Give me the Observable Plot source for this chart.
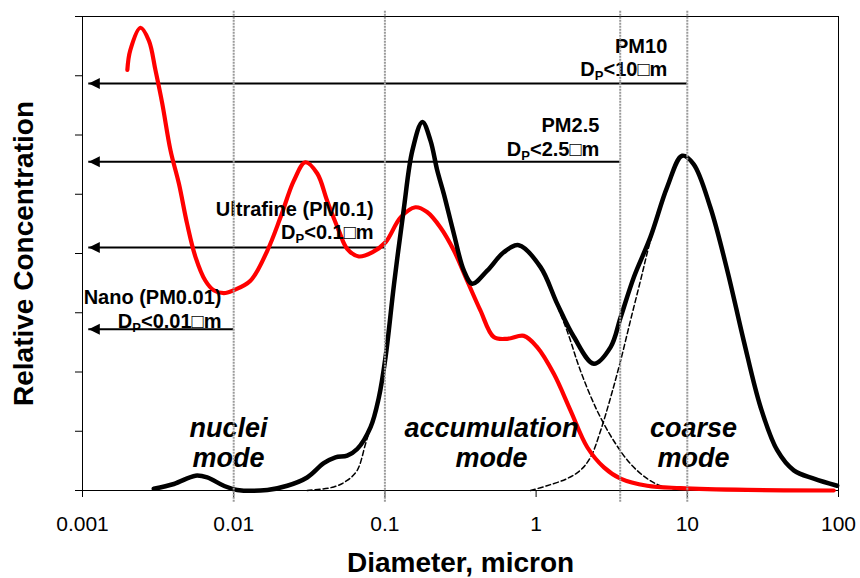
<!DOCTYPE html>
<html>
<head>
<meta charset="utf-8">
<script src="https://cdn.jsdelivr.net/npm/d3@7"></script>
<script src="https://cdn.jsdelivr.net/npm/@observablehq/plot@0.6"></script>
<style>
  html, body { margin: 0; padding: 0; background: #ffffff; }
  #chart { width: 860px; height: 578px; }
</style>
</head>
<body>
<div id="chart"></div>
<script>
// ---- Data ----
const xTicks = [0.001, 0.01, 0.1, 1, 10, 100];
const xTickLabels = ["0.001", "0.01", "0.1", "1", "10", "100"];
const yTicks = [0, 1, 2, 3, 4, 5, 6, 7, 8];

// Red curve (number distribution)
const redDiameter = [0.00198,0.00207,0.00242,0.00275,0.00304,0.00337,0.00382,0.00434,0.00492,0.00559,0.0065,0.00738,0.0086,0.0100,0.0129,0.0167,0.0204,0.025,0.0298,0.0357,0.0415,0.0495,0.0563,0.0672,0.0824,0.101,0.127,0.159,0.19,0.233,0.286,0.35,0.428,0.525,0.644,0.83,1.016,1.31,1.69,2.18,2.81,3.62,5.43,9.0,24.9,93];
const redConc = [7.10,7.43,7.81,7.59,7.09,6.53,5.74,5.18,4.50,3.94,3.54,3.38,3.33,3.38,3.54,4.05,4.61,5.23,5.54,5.35,4.89,4.39,4.08,3.95,4.02,4.19,4.61,4.78,4.70,4.44,4.05,3.54,3.04,2.59,2.56,2.61,2.42,1.97,1.35,0.73,0.39,0.20,0.08,0.04,0.01,0.0];

// Black curve (total)
const blackDiameter = [0.00296,0.00402,0.00559,0.00668,0.0086,0.01054,0.0167,0.0226,0.0306,0.0394,0.0471,0.0563,0.0656,0.0804,0.0912,0.101,0.115,0.133,0.152,0.177,0.200,0.222,0.245,0.286,0.333,0.378,0.475,0.611,0.768,1.07,1.38,1.78,2.41,3.11,3.62,4.43,5.71,7.36,9.25,11.0,14.2,18.4,23.6,30.5,39.3,50.6,68.7,98];
const blackConc = [0.03,0.11,0.25,0.22,0.08,0.01,0.01,0.08,0.22,0.46,0.56,0.59,0.70,1.07,1.57,2.25,3.49,4.73,5.74,6.22,5.91,5.40,5.01,4.33,3.71,3.49,3.71,4.02,4.14,3.77,3.15,2.59,2.14,2.42,2.92,3.60,4.28,5.12,5.65,5.51,4.78,3.71,2.53,1.41,0.68,0.34,0.20,0.08];

// Dashed component: accumulation mode
const accumDiameter = [0.0306,0.0459,0.0563,0.0656,0.0745,0.0804,0.0912,0.101,0.115,0.133,0.152,0.177,0.200,0.222,0.245,0.286,0.333,0.378,0.475,0.611,0.768,1.07,1.24,1.60,1.96,2.53,3.26,4.21,5.43,6.65,8.4];
const accumConc = [0.0,0.06,0.17,0.34,0.79,1.07,1.57,2.25,3.49,4.73,5.74,6.22,5.91,5.40,5.01,4.33,3.71,3.49,3.71,4.02,4.14,3.77,3.40,2.70,2.03,1.35,0.84,0.45,0.20,0.08,0.02];

// Dashed component: coarse mode
const coarseDiameter = [0.918,1.18,1.60,1.96,2.29,2.67,3.11,3.62,4.21,4.90,5.71,7.36,9.25,11.0,14.2,18.4,23.6,30.5,39.3,50.6,68.7,98];
const coarseConc = [0.0,0.08,0.20,0.34,0.56,1.01,1.57,2.19,2.87,3.54,4.22,5.12,5.65,5.51,4.78,3.71,2.53,1.41,0.68,0.34,0.20,0.08];

// Size-class arrows
const arrowTitles = ["PM10", "PM2.5", "Ultrafine (PM0.1)", "Nano (PM0.01)"];
const arrowLimits = ["DP<10\u25A1m", "DP<2.5\u25A1m", "DP<0.1\u25A1m", "DP<0.01\u25A1m"];
const arrowLevel = [6.87, 5.55, 4.10, 2.72];
const arrowEnd = [10, 3.6, 0.1, 0.01];
const arrowStart = 0.0011;
const arrowLabelX = [7.37, 2.62, 0.0842, 0.0083];
const arrowLabelY = [6.99, 5.65, 4.24, 2.75];

// Vertical reference lines
const gridX = [0.01, 0.1, 3.6, 10];

// Mode labels
const modeNames = ["nuclei\nmode", "accumulation\nmode", "coarse\nmode"];
const modeX = [0.00925, 0.507, 11.0];
const modeY = [0.39, 0.39, 0.39];

const xLabel = "Diameter, micron";
const yLabel = "Relative Concentration";

// ---- Build tables ----
const toSeries = (ds, cs) => ds.map((d, i) => ({d, c: cs[i]}));
const red = toSeries(redDiameter, redConc);
const black = toSeries(blackDiameter, blackConc);
const accum = toSeries(accumDiameter, accumConc);
const coarse = toSeries(coarseDiameter, coarseConc);
const arrows = arrowTitles.map((t, i) => ({
  label: t + "\n" + arrowLimits[i],
  y: arrowLevel[i], x2: arrowEnd[i], lx: arrowLabelX[i], ly: arrowLabelY[i]
}));
const modes = modeNames.map((n, i) => ({name: n, x: modeX[i], y: modeY[i]}));

const leftTriangle = {
  draw(ctx, size) {
    const r = Math.sqrt(size / Math.PI);
    const L = 2.4 * r, h = 1.2 * r;
    ctx.moveTo(0, 0);
    ctx.lineTo(L, -h);
    ctx.lineTo(L, h);
    ctx.closePath();
  }
};

const fontFamily = '"Liberation Sans", Arial, Helvetica, sans-serif';

const chart = Plot.plot({
  width: 860,
  height: 578,
  marginLeft: 82,
  marginRight: 22,
  marginTop: 16,
  marginBottom: 88,
  style: {fontFamily, fontSize: "21px", color: "black", background: "white", overflow: "visible"},
  x: {type: "log", domain: [0.001, 100], ticks: xTicks,
      tickFormat: d => xTickLabels[xTicks.indexOf(d)], tickSize: 7, tickPadding: 19, label: null},
  y: {domain: [0, 8], ticks: yTicks, tickFormat: () => "", tickSize: 7, label: null},
  marks: [
    Plot.frame({stroke: "black", strokeWidth: 1}),
    Plot.ruleY(arrows, {y: "y", x1: () => arrowStart, x2: "x2", stroke: "black", strokeWidth: 2}),
    Plot.dot(arrows, {x: () => arrowStart, y: "y", symbol: leftTriangle, r: 4.6, fill: "black", stroke: "none"}),
    Plot.line(accum, {x: "d", y: "c", stroke: "black", strokeWidth: 1.5, strokeDasharray: "5,3", curve: "catmull-rom"}),
    Plot.line(coarse, {x: "d", y: "c", stroke: "black", strokeWidth: 1.5, strokeDasharray: "5,3", curve: "catmull-rom"}),
    Plot.line(red, {x: "d", y: "c", stroke: "#ff0000", strokeWidth: 4.2, curve: "catmull-rom"}),
    Plot.line(black, {x: "d", y: "c", stroke: "black", strokeWidth: 4.5, curve: "catmull-rom"}),
    Plot.text(arrows, {x: "lx", y: "ly", text: "label", textAnchor: "end", lineAnchor: "bottom",
      lineHeight: 1.18, fontSize: 20, fontWeight: "bold", fill: "black"}),
    Plot.text(modes, {x: "x", y: "y", text: "name", textAnchor: "middle", lineAnchor: "bottom",
      lineHeight: 1.11, fontSize: 27, fontWeight: "bold", fontStyle: "italic", fill: "black"}),
    Plot.text([xLabel], {text: d => d, frameAnchor: "bottom", textAnchor: "middle", lineAnchor: "bottom",
      dy: 81, fontSize: 28, fontWeight: "bold", fill: "black"}),
    Plot.text([yLabel], {text: d => d, frameAnchor: "left", textAnchor: "middle", lineAnchor: "middle",
      rotate: -90, dx: -58, fontSize: 28, fontWeight: "bold", fill: "black"}),
    Plot.ruleX(gridX, {x: d => d, y1: () => -0.2, y2: () => 8.1, stroke: "#9a9a9a", strokeWidth: 2, strokeDasharray: "2,1"})
  ]
});

// Subscript "P" in D_P labels
chart.querySelectorAll("text, tspan").forEach(el => {
  if (el.children.length === 0 && el.textContent.startsWith("DP<")) {
    const rest = el.textContent.slice(2);
    el.textContent = "D";
    const sub = document.createElementNS("http://www.w3.org/2000/svg", "tspan");
    sub.setAttribute("font-size", "13");
    sub.setAttribute("baseline-shift", "-4");
    sub.textContent = "P";
    el.appendChild(sub);
    el.appendChild(document.createTextNode(rest));
  }
});

document.getElementById("chart").appendChild(chart);
</script>
</body>
</html>
